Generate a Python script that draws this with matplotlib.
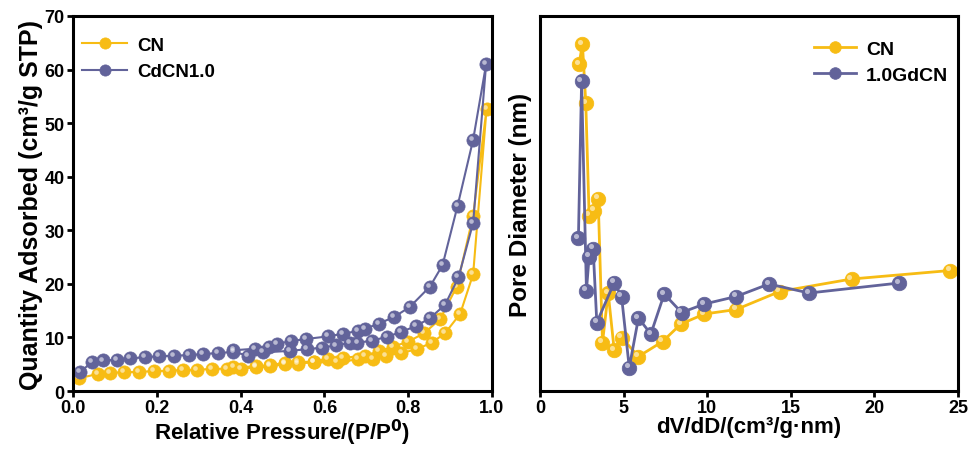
import matplotlib
matplotlib.use("Agg")
import matplotlib.pyplot as plt
from matplotlib.transforms import ScaledTranslation

# Isotherm data (relative pressure, quantity adsorbed), adsorption then desorption
cn_p = [0.015, 0.06, 0.088, 0.122, 0.158, 0.193, 0.228, 0.262, 0.297, 0.332, 0.367, 0.40,
        0.437, 0.47, 0.506, 0.538, 0.575, 0.629, 0.68, 0.717, 0.748, 0.784, 0.82, 0.856,
        0.888, 0.924, 0.955, 0.987,
        0.955, 0.916, 0.876, 0.838, 0.80, 0.764, 0.73, 0.697, 0.645, 0.609, 0.575, 0.538,
        0.506, 0.47, 0.437, 0.383]
cn_q = [2.4, 3.2, 3.4, 3.5, 3.6, 3.7, 3.8, 3.9, 4.0, 4.1, 4.2, 4.2,
        4.4, 4.6, 5.0, 5.1, 5.4, 5.35, 5.9, 6.0, 6.6, 7.1, 7.8, 9.0,
        10.8, 14.4, 21.8, 52.6,
        32.7, 19.5, 13.4, 10.8, 9.2, 8.3, 7.4, 6.6, 6.2, 6.0, 5.5, 5.4,
        5.3, 4.8, 4.6, 4.4]

cd_p = [0.017, 0.045, 0.072, 0.104, 0.136, 0.172, 0.206, 0.242, 0.277, 0.311, 0.347, 0.383,
        0.418, 0.453, 0.518, 0.558, 0.594, 0.628, 0.661, 0.679, 0.713, 0.749, 0.782, 0.818,
        0.852, 0.888, 0.92, 0.955, 0.986,
        0.955, 0.918, 0.882, 0.852, 0.804, 0.766, 0.73, 0.697, 0.68, 0.645, 0.609, 0.555,
        0.52, 0.486, 0.468, 0.434, 0.383]
cd_q = [3.6, 5.35, 5.7, 5.85, 6.1, 6.3, 6.5, 6.6, 6.7, 6.9, 7.1, 7.3,
        6.6, 7.2, 7.5, 7.8, 8.1, 8.5, 9.0, 9.0, 9.4, 10.1, 11.0, 12.1,
        13.6, 16.1, 21.2, 31.4, 61.0,
        46.9, 34.6, 23.5, 19.5, 15.7, 13.8, 12.6, 11.6, 11.2, 10.7, 10.2, 9.7,
        9.3, 8.8, 8.3, 7.9, 7.6]

# Pore size distribution (arbitrary y units)
cn_d = [2.34, 2.54, 2.74, 2.94, 3.24, 3.48, 3.74, 4.08, 4.44, 4.88, 5.89, 7.33,
        8.43, 9.83, 11.73, 14.33, 18.63, 24.52]
cn_v = [65.4, 69.4, 57.6, 35.1, 36.1, 38.5, 9.7, 19.6, 8.2, 10.7, 6.9, 9.9,
        13.4, 15.4, 16.3, 19.9, 22.4, 24.1]

gd_d = [2.30, 2.49, 2.78, 2.94, 3.18, 3.40, 4.44, 4.88, 5.34, 5.89, 6.63, 7.43,
        8.47, 9.83, 11.73, 13.69, 16.09, 21.48]
gd_v = [30.6, 61.9, 20.1, 26.9, 28.5, 13.7, 21.7, 18.9, 4.7, 14.6, 11.4, 19.4,
        15.7, 17.4, 18.9, 21.4, 19.6, 21.6]

YELLOW = "#F7BC14"
PURPLE = "#62639A"

plt.rcParams["font.family"] = ["Liberation Sans", "DejaVu Sans"]
plt.rcParams["font.weight"] = "bold"

fig = plt.figure(figsize=(9.75, 4.52), dpi=100)
ax1 = fig.add_axes([0.0749, 0.1327, 0.4297, 0.8297])
ax2 = fig.add_axes([0.5538, 0.1327, 0.4288, 0.8297])


# Draws a series with shaded "ball" markers
def ball_series(ax, x, y, color, label, ms, lw):
    line, = ax.plot(x, y, "-o", color=color, lw=lw, ms=ms, mfc=color,
                    mec=color, mew=0.5, label=label)
    shift = ax.transData + ScaledTranslation(-ms * 0.15 / 72, ms * 0.15 / 72, fig.dpi_scale_trans)
    ax.plot(x, y, "o", ms=ms * 0.35, color="white", alpha=0.55, mew=0, transform=shift)
    return line


# Left: isotherms
h1 = ball_series(ax1, cn_p, cn_q, YELLOW, "CN", 9.5, 1.5)
h2 = ball_series(ax1, cd_p, cd_q, PURPLE, "CdCN1.0", 9.5, 1.5)
ax1.set_xlim(0, 1.0)
ax1.set_ylim(0, 70)
ax1.set_xticks([0.0, 0.2, 0.4, 0.6, 0.8, 1.0])
ax1.set_yticks(range(0, 71, 10))
ax1.set_xlabel("Relative Pressure/(P/P$\\mathbf{^0}$)", fontsize=16, fontweight="bold", labelpad=0)
ax1.set_ylabel("Quantity Adsorbed (cm³/g STP)", fontsize=18, fontweight="bold", labelpad=1)
ax1.legend(handles=[h1, h2], loc="upper left", bbox_to_anchor=(0.0, 0.97), frameon=False,
           fontsize=13.5, handlelength=2.4, handletextpad=0.5, borderaxespad=0.1,
           labelspacing=0.5, markerscale=0.85)

# Right: pore size distribution
h3 = ball_series(ax2, cn_d, cn_v, YELLOW, "CN", 10.5, 2)
h4 = ball_series(ax2, gd_d, gd_v, PURPLE, "1.0GdCN", 10.5, 2)
ax2.set_xlim(0, 25)
ax2.set_ylim(0, 75)
ax2.set_xticks([0, 5, 10, 15, 20, 25])
ax2.set_yticks([])
ax2.set_xlabel("dV/dD/(cm³/g·nm)", fontsize=16, fontweight="bold", labelpad=0)
ax2.set_ylabel("Pore Diameter (nm)", fontsize=17.5, fontweight="bold", labelpad=6)
ax2.legend(handles=[h3, h4], loc="upper right", bbox_to_anchor=(1.0, 0.962), frameon=False,
           fontsize=14, handlelength=2.2, handletextpad=0.5, borderaxespad=0.1,
           labelspacing=0.45, markerscale=0.8)

for ax in (ax1, ax2):
    for s in ax.spines.values():
        s.set_linewidth(2.2)
    ax.tick_params(direction="out", width=2, length=4, labelsize=13, pad=2)
    for t in ax.get_xticklabels() + ax.get_yticklabels():
        t.set_fontweight("bold")

fig.savefig("out.png", dpi=100)
